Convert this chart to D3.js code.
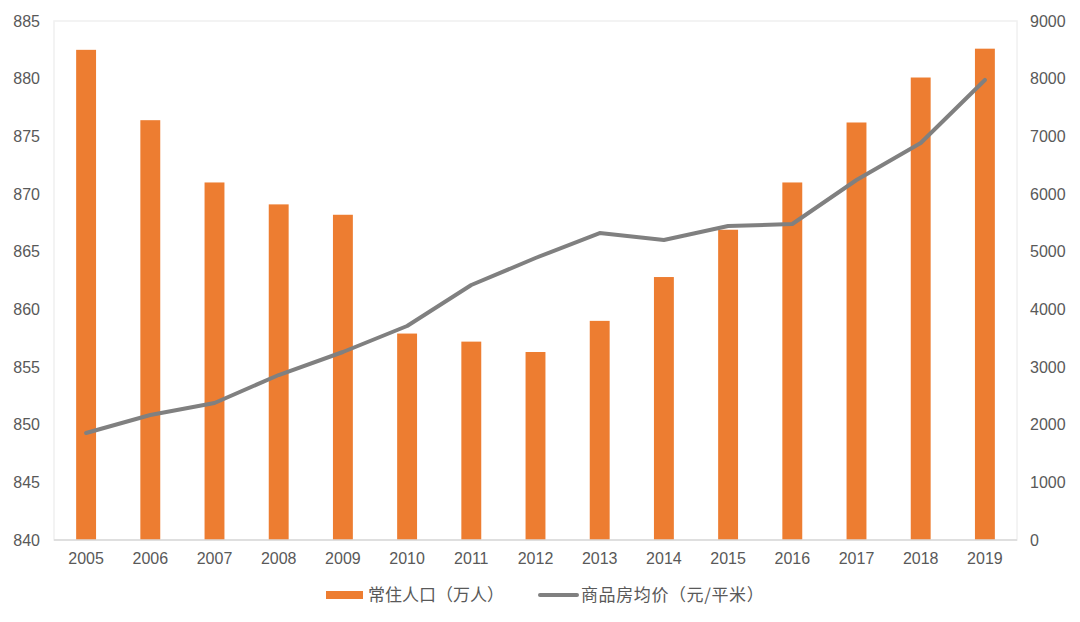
<!DOCTYPE html>
<html>
<head>
<meta charset="utf-8">
<script src="https://cdn.jsdelivr.net/npm/d3@7"></script>
<style>
  body { margin: 0; background: #fff; }
  svg text { font-family: "Liberation Sans", Arial, "Noto Sans CJK SC", sans-serif; fill: #595959; }
</style>
</head>
<body>
<svg id="chart" width="1080" height="622"></svg>
<script>
var years = ["2005","2006","2007","2008","2009","2010","2011","2012","2013","2014","2015","2016","2017","2018","2019"];
var population = [882.5, 876.4, 871.0, 869.1, 868.2, 857.9, 857.2, 856.3, 859.0, 862.8, 866.9, 871.0, 876.2, 880.1, 882.6];
var price = [1855, 2167, 2376, 2861, 3260, 3711, 4422, 4890, 5323, 5202, 5445, 5480, 6243, 6884, 7977];
var leftTicks = [840, 845, 850, 855, 860, 865, 870, 875, 880, 885];
var rightTicks = [0, 1000, 2000, 3000, 4000, 5000, 6000, 7000, 8000, 9000];
var seriesNames = ["常住人口（万人）", "商品房均价（元/平米）"];

var svg = d3.select("#chart"),
    plotL = 54, plotR = 1017, plotT = 21, plotB = 540;

var x = d3.scaleBand().domain(years).range([plotL, plotR]).padding(0),
    yL = d3.scaleLinear().domain([840, 885]).range([plotB, plotT]),
    yR = d3.scaleLinear().domain([0, 9000]).range([plotB, plotT]);

var barW = x.bandwidth() * 0.31;

// plot border
svg.append("rect")
   .attr("x", plotL).attr("y", plotT)
   .attr("width", plotR - plotL).attr("height", plotB - plotT)
   .attr("fill", "none").attr("stroke", "#f0f0f0").attr("stroke-width", 1.5);

svg.selectAll(".bar")
   .data(population)
   .enter().append("rect")
   .attr("class", "bar")
   .attr("x", function(d, i) { return x(years[i]) + x.bandwidth() / 2 - barW / 2; })
   .attr("y", function(d) { return yL(d); })
   .attr("width", barW)
   .attr("height", function(d) { return plotB - yL(d); })
   .attr("fill", "#ED7D31");

// bottom axis line
svg.append("line")
   .attr("x1", plotL).attr("x2", plotR)
   .attr("y1", plotB).attr("y2", plotB)
   .attr("stroke", "#d9d9d9").attr("stroke-width", 1.5);

var line = d3.line()
   .x(function(d, i) { return x(years[i]) + x.bandwidth() / 2; })
   .y(function(d) { return yR(d); });

svg.append("path")
   .datum(price)
   .attr("d", line)
   .attr("fill", "none")
   .attr("stroke", "#808080")
   .attr("stroke-width", 4)
   .attr("stroke-linejoin", "round")
   .attr("stroke-linecap", "round");

// axes
var axL = svg.append("g")
   .attr("transform", "translate(" + plotL + ",0)")
   .call(d3.axisLeft(yL).tickValues(leftTicks).tickSize(0).tickPadding(14));
var axR = svg.append("g")
   .attr("transform", "translate(" + plotR + ",0)")
   .call(d3.axisRight(yR).tickValues(rightTicks).tickSize(0).tickPadding(13).tickFormat(d3.format("d")));
var axB = svg.append("g")
   .attr("transform", "translate(0," + plotB + ")")
   .call(d3.axisBottom(x).tickSize(0).tickPadding(13));

[axL, axR, axB].forEach(function(g) {
  g.select(".domain").remove();
  g.selectAll("text").attr("font-size", "16px").attr("fill", "#595959")
   .style("font-family", "'Liberation Sans', Arial, sans-serif");
});

// legend
var lg = svg.append("g").attr("transform", "translate(0,595)");
lg.append("rect").attr("x", 326).attr("y", -4).attr("width", 37).attr("height", 8).attr("fill", "#ED7D31");
lg.append("text").attr("x", 368).attr("y", 0).attr("dy", "0.35em").attr("font-size", "17px")
  .style("font-family", "'Noto Sans CJK SC', sans-serif").text(seriesNames[0]);
lg.append("line").attr("x1", 540).attr("x2", 577).attr("y1", 0).attr("y2", 0)
  .attr("stroke", "#808080").attr("stroke-width", 4).attr("stroke-linecap", "round");
lg.append("text").attr("x", 581).attr("y", 0).attr("dy", "0.35em").attr("font-size", "17px")
  .style("font-family", "'Noto Sans CJK SC', sans-serif").attr("letter-spacing", "0.6px").text(seriesNames[1]);
</script>
</body>
</html>
